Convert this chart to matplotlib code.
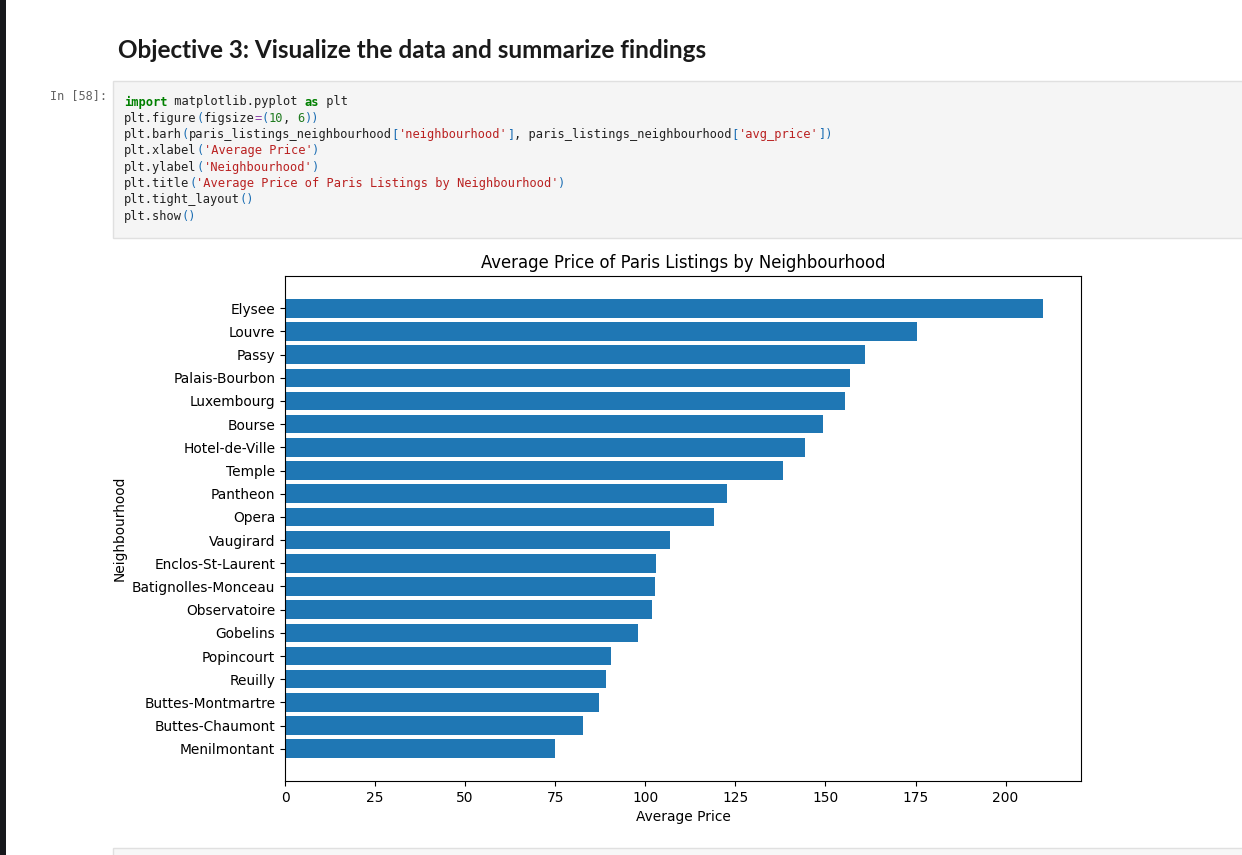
import matplotlib
matplotlib.use("Agg")
import matplotlib.pyplot as plt
from matplotlib.patches import Rectangle

# ---- data ----
neighbourhoods = ["Menilmontant", "Buttes-Chaumont", "Buttes-Montmartre", "Reuilly",
                  "Popincourt", "Gobelins", "Observatoire", "Batignolles-Monceau",
                  "Enclos-St-Laurent", "Vaugirard", "Opera", "Pantheon", "Temple",
                  "Hotel-de-Ville", "Bourse", "Luxembourg", "Palais-Bourbon", "Passy",
                  "Louvre", "Elysee"]
avg_price = [75.0, 82.7, 87.2, 89.1, 90.5, 98.0, 101.9, 102.7, 103.0, 106.9,
             119.1, 122.7, 138.3, 144.3, 149.3, 155.5, 156.9, 160.9, 175.5, 210.4]
x_ticks = [0, 25, 50, 75, 100, 125, 150, 175, 200]

title_text = "Average Price of Paris Listings by Neighbourhood"
heading_text = "Objective 3: Visualize the data and summarize findings"
prompt_text = "In [58]:"

W, H = 1242, 855
DPI = 100
fig = plt.figure(figsize=(W / DPI, H / DPI), dpi=DPI)
fig.patch.set_facecolor("white")


def fx(px):
    return px / W


def fy(py):
    return 1 - py / H


# ---- notebook chrome ----
fig.patches.append(Rectangle((0, 0), fx(6), 1, transform=fig.transFigure,
                             facecolor="#17181c", edgecolor="none", zorder=0))
fig.patches.append(Rectangle((fx(113), fy(238)), fx(1242 - 113 + 5), (238 - 81) / H,
                             transform=fig.transFigure, facecolor="#f5f5f5",
                             edgecolor="#e0e0e0", linewidth=1.0, zorder=0))
fig.patches.append(Rectangle((fx(113), fy(860)), fx(1242 - 113 + 5), 12 / H,
                             transform=fig.transFigure, facecolor="#f7f7f7",
                             edgecolor="#e0e0e0", linewidth=1.0, zorder=0))

fig.text(fx(118), fy(51), heading_text, fontsize=17.5, fontweight="bold",
         family=["Lato", "DejaVu Sans"], color="#1a1a1a", va="center", ha="left")
fig.text(fx(107), fy(96), prompt_text, fontsize=8.6, family="DejaVu Sans Mono",
         color="#616161", va="center", ha="right")

K = ("#008000", "bold")
D = ("#212121", "normal")
S = ("#ba2121", "normal")
B = ("#1a6db3", "normal")
N = ("#1e7a1e", "normal")
O = ("#8a3fa8", "normal")

code_lines = [
    [("import", K), (" matplotlib.pyplot ", D), ("as", K), (" plt", D)],
    [("plt.figure", D), ("(", B), ("figsize", D), ("=", O), ("(", B), ("10", N), (", ", D),
     ("6", N), ("))", B)],
    [("plt.barh", D), ("(", B), ("paris_listings_neighbourhood", D), ("[", B),
     ("'neighbourhood'", S), ("]", B), (", paris_listings_neighbourhood", D), ("[", B),
     ("'avg_price'", S), ("])", B)],
    [("plt.xlabel", D), ("(", B), ("'Average Price'", S), (")", B)],
    [("plt.ylabel", D), ("(", B), ("'Neighbourhood'", S), (")", B)],
    [("plt.title", D), ("(", B), ("'Average Price of Paris Listings by Neighbourhood'", S),
     (")", B)],
    [("plt.tight_layout", D), ("()", B)],
    [("plt.show", D), ("()", B)],
]
char_w = 7.23
for i, line in enumerate(code_lines):
    col = 0
    y = 102 + i * 16.3
    for tok, (c, w) in line:
        fig.text(fx(124 + col * char_w), fy(y), tok, fontsize=8.65,
                 family="DejaVu Sans Mono", color=c, fontweight=w,
                 va="center", ha="left")
        col += len(tok)

# ---- chart ----
ax = fig.add_axes([fx(285), fy(781), fx(1081 - 285), (781 - 276) / H])
ax.barh(neighbourhoods, avg_price, color="#1f77b4")
ax.set_xticks(x_ticks)
ax.tick_params(labelsize=9.9)
ax.set_xlabel("Average Price", fontsize=9.9)
ax.set_ylabel("Neighbourhood", fontsize=9.9)
ax.set_title(title_text, fontsize=11.9)

fig.savefig("out.png", dpi=DPI)
